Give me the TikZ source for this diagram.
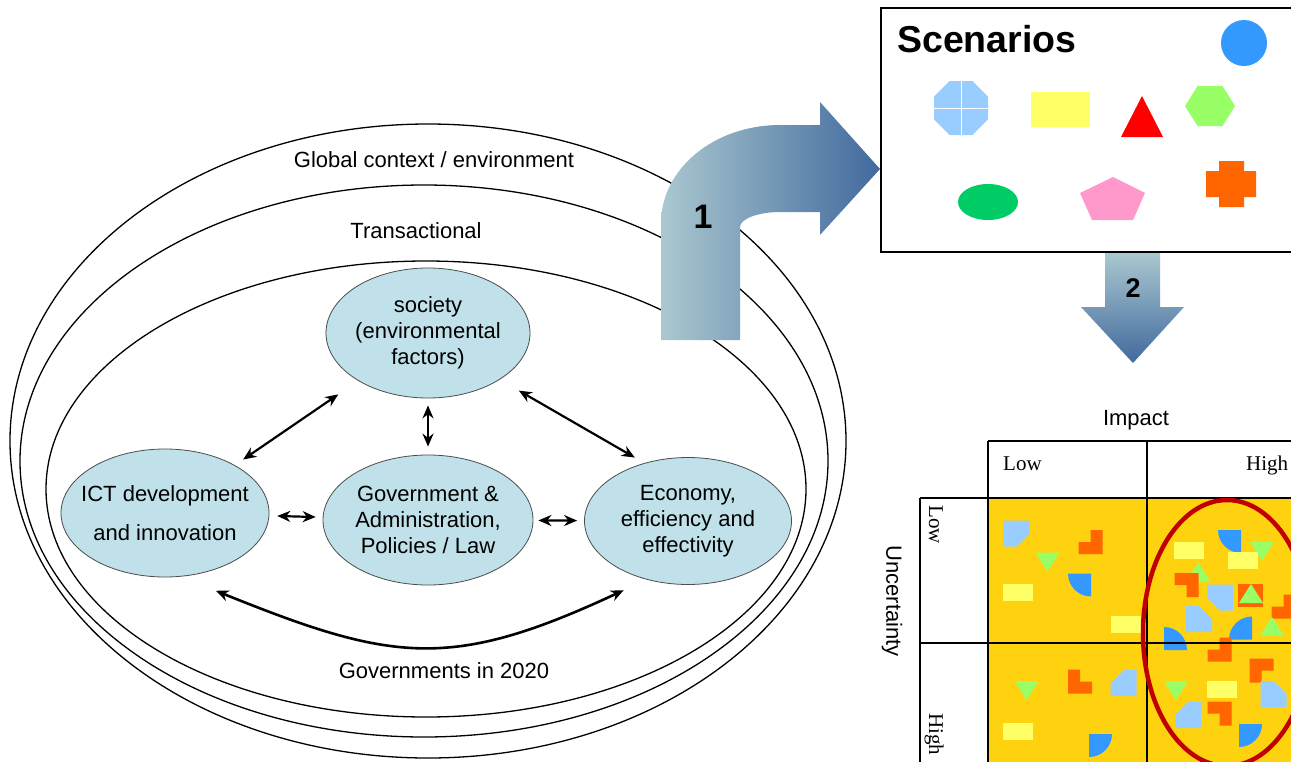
\documentclass[tikz,border=0pt]{standalone}
\usepackage{fontspec}
\setmainfont{Liberation Sans}
\newfontfamily\seriffont{Liberation Serif}
\usetikzlibrary{shapes.geometric,arrows.meta}
\definecolor{nodefill}{HTML}{C0E1E9}
\definecolor{arrL}{HTML}{AAC8D0}
\definecolor{arrR}{HTML}{41699D}
\definecolor{lblue}{HTML}{99CCFF}
\definecolor{bblue}{HTML}{3399FF}
\definecolor{orng}{HTML}{FF6600}
\definecolor{grn}{HTML}{99FF66}
\definecolor{ylw}{HTML}{FFFF66}
\definecolor{gold}{HTML}{FFD20F}
\definecolor{dgreen}{HTML}{00CC66}
\definecolor{pnk}{HTML}{FF99CC}
\definecolor{rd}{HTML}{FF0000}
\definecolor{dred}{HTML}{C00000}
\begin{document}
\begin{tikzpicture}[x=1pt,y=-1pt,
  bubble/.style={ellipse, draw=black!70, line width=0.8pt, fill=nodefill, inner sep=0pt},
  btext/.style={align=center, inner sep=0pt, font=\fontsize{22}{26}\selectfont},
  ring/.style={ellipse, draw, line width=1.3pt, inner sep=0pt},
  biarrow/.style={{Stealth[length=13pt,width=11pt]}-{Stealth[length=13pt,width=11pt]}, line width=2.2pt},
  lbl/.style={font=\fontsize{22}{26}\selectfont},
  tlbl/.style={font=\seriffont\fontsize{21}{24}\selectfont},
  grid/.style={line width=1.3pt},
  lbsq/.pic={\fill[lblue] (-13,-13) -- (13,-13) -- (13,0) -- (0,13) -- (-13,13) -- cycle;},
  ol/.pic={\fill[orng] (0,-12) -- (12,-12) -- (12,12) -- (-12,12) -- (-12,0) -- (0,0) -- cycle;},
  bq/.pic={\fill[bblue] (11.5,-11.5) -- (-11.5,-11.5) .. controls (-11.5,1.2) and (-1.2,11.5) .. (11.5,11.5) -- cycle;},
  gtri/.pic={\fill[grn] (-12,-9) -- (12,-9) -- (0,10) -- cycle;},
  yrect/.pic={\fill[ylw] (-15,-8.5) rectangle (15,8.5);}
]
\clip (0,0) rectangle (1291,761);
\fill[white] (0,0) rectangle (1291,761);

% context rings
\node[ring, minimum width=836, minimum height=634] (global) at (428,441) {};
\node[ring, minimum width=808, minimum height=552] (trans) at (424,461) {};
\node[ring, minimum width=760, minimum height=456] (gov2020) at (426,489) {};
\node[lbl] (tglobal) at (434,160) {Global context / environment};
\node[lbl] (ttrans) at (416,231) {Transactional};
\node[lbl] (tgov2020) at (444,671) {Governments in 2020};

% inner bubbles
\node[bubble, minimum width=204, minimum height=130] (soc) at (428,333) {};
\node[bubble, minimum width=208, minimum height=128] (ict) at (165,513) {};
\node[bubble, minimum width=210, minimum height=130] (gov) at (428,520) {};
\node[bubble, minimum width=207, minimum height=127] (eco) at (688,521) {};
\node[btext] (soc-t) at (soc) {society\\(environmental\\factors)};
\node[btext] (ict-t) at (ict) {ICT development\\[13pt]and innovation};
\node[btext] (gov-t) at (gov) {Government \&\\Administration,\\Policies / Law};
\node[btext] (eco-t) at (eco) {Economy,\\efficiency and\\effectivity};

\draw[biarrow, shorten <=24pt, shorten >=10pt] (soc) -- (ict);
\draw[biarrow, shorten <=7pt, shorten >=8pt] (soc.south) -- (gov.north);
\draw[biarrow, shorten <=22pt, shorten >=11pt] (soc.-33.5) -- (eco.127.7);
\draw[biarrow, shorten <=8pt, shorten >=7pt] (ict) -- (gov);
\draw[biarrow, shorten <=5pt, shorten >=7pt] (gov) -- (eco);
\draw[biarrow, line width=2.6pt] ([xshift=12pt,yshift=-18pt]ict.-57) to[out=-22,in=-155,looseness=1.2] ([yshift=-19pt]eco.218);

% arrow 1
\shade[left color=arrL, right color=arrR] (661,340) -- (661,223) .. controls (661,169) and (714,125) .. (780,125) -- (820,125) -- (820,102) -- (880,169) -- (820,235) -- (820,212) -- (780,212) .. controls (758,212) and (740,219) .. (740,227) -- (740,340) -- cycle;
\node[font=\bfseries\fontsize{34}{34}\selectfont] (one) at (703,217) {1};

% scenarios box
\draw[line width=1.2pt] (881,8) rectangle (1310,252);
\node[font=\bfseries\fontsize{37.5}{40}\selectfont, anchor=base west, inner sep=0pt] (scen) at (897,52) {Scenarios};
\fill[bblue] (1244,43) circle[radius=23];
\fill[lblue] (949.6,81) -- (972.4,81) -- (988,96.6) -- (988,119.4) -- (972.4,135) -- (949.6,135) -- (934,119.4) -- (934,96.6) -- cycle;
\draw[white, line width=0.8pt] (961,81) -- (961,135) (934,108) -- (988,108);
\fill[ylw] (1031,92) rectangle (1090,127);
\fill[rd] (1121,137) -- (1163,137) -- (1142,96) -- cycle;
\fill[grn] (1185,106) -- (1197.5,86) -- (1222.5,86) -- (1235,106) -- (1222.5,126) -- (1197.5,126) -- cycle;
\fill[dgreen] (988,202) ellipse[x radius=30, y radius=18];
\fill[pnk] (1113,177) -- (1145,193) -- (1133,220) -- (1092,220) -- (1080,193) -- cycle;
\fill[orng] (1219,161) -- (1244,161) -- (1244,171) -- (1256,171) -- (1256,197) -- (1244,197) -- (1244,207) -- (1219,207) -- (1219,197) -- (1206,197) -- (1206,171) -- (1219,171) -- cycle;

% arrow 2
\shade[top color=arrL, bottom color=arrR] (1105,253) -- (1160,253) -- (1160,307) -- (1184,307) -- (1133,363) -- (1081,307) -- (1105,307) -- cycle;
\node[font=\bfseries\fontsize{27}{27}\selectfont] (two) at (1133,288) {2};

% matrix
\node[lbl] (impact) at (1136,420) {Impact};
\node[lbl, rotate=-90] (uncert) at (892,601) {Uncertainty};
\fill[gold] (988,498) rectangle (1300,770);
% top-left cell
\pic at (1016.5,533.5) {lbsq};
\pic at (1090.5,542) {ol};
\pic at (1047.5,561.5) {gtri};
\pic at (1079.5,585) {bq};
\pic at (1018,592.5) {yrect};
\pic at (1125.5,624.5) {yrect};
% bottom-left cell
\pic at (1026.5,690) {gtri};
\pic[rotate=270] at (1080,681.5) {ol};
\pic[rotate=180] at (1123.5,683) {lbsq};
\pic at (1018,731.5) {yrect};
\pic[rotate=90] at (1100.5,745.5) {bq};
% top-right cell
\pic at (1229.5,541.5) {bq};
\pic at (1262,551) {gtri};
\pic at (1189,550.5) {yrect};
\pic at (1243,560.5) {yrect};
\pic[rotate=180] at (1198.5,572.5) {gtri};
\pic[rotate=90] at (1186.5,585) {ol};
\pic[rotate=270] at (1220,597.5) {lbsq};
\fill[orng] (1238,584) rectangle (1263,607);
\pic[rotate=180] at (1251,594) {gtri};
\pic at (1283.5,606.5) {ol};
\pic[rotate=90] at (1199,619) {lbsq};
\pic[rotate=270] at (1240.5,628) {bq};
\pic[rotate=180] at (1272,627) {gtri};
\pic[rotate=180] at (1175.5,638.5) {bq};
% bottom-right cell
\pic at (1219.5,649.5) {ol};
\pic[rotate=180] at (1261.5,670.5) {ol};
\pic at (1176,690) {gtri};
\pic at (1222,689) {yrect};
\pic[rotate=90] at (1273.5,694) {lbsq};
\pic[rotate=180] at (1188,715) {lbsq};
\pic[rotate=90] at (1219.5,713.5) {ol};
\pic[rotate=90] at (1250.5,735.5) {bq};
% grid
\draw[grid] (988,441) -- (1300,441);
\draw[grid] (988,441) -- (988,770);
\draw[grid] (1147,441) -- (1147,770);
\draw[grid] (920,498) -- (1300,498);
\draw[grid] (920,498) -- (920,770);
\draw[grid] (920,643) -- (1300,643);
\node[tlbl, anchor=base west, inner sep=0pt] (clow) at (1003,470) {Low};
\node[tlbl, anchor=base west, inner sep=0pt] (chigh) at (1246,470) {High};
\node[tlbl, rotate=-90, anchor=base west, inner sep=0pt] (rlow) at (929,505) {Low};
\node[tlbl, rotate=-90, anchor=base west, inner sep=0pt] (rhigh) at (929,713) {High};
\draw[dred, line width=4.5pt] (1227,633) ellipse[x radius=84, y radius=133];
\end{tikzpicture}
\end{document}
